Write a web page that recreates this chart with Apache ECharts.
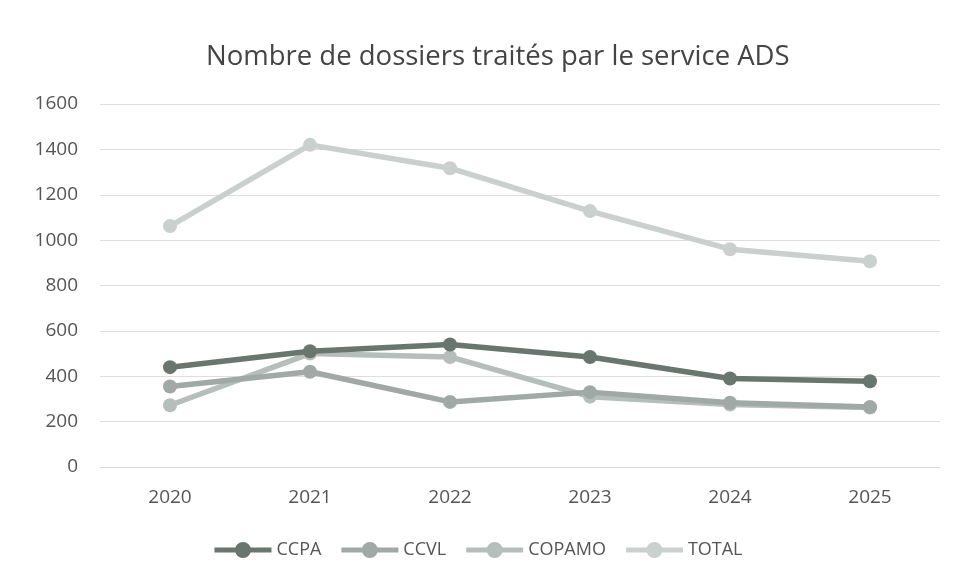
<!DOCTYPE html>
<html><head><meta charset="utf-8">
<script src="https://cdn.jsdelivr.net/npm/echarts@6/dist/echarts.min.js"></script>
<style>html,body{margin:0;padding:0;background:#fff}#c{width:957px;height:587px}</style>
</head><body><div id="c"></div>
<script>
const categories = ['2020','2021','2022','2023','2024','2025'];
const ccpa   = [440, 510, 540, 485, 390, 378];
const ccvl   = [355, 420, 287, 330, 283, 264];
const copamo = [272, 500, 485, 310, 275, 262];
const total  = [1062, 1420, 1317, 1128, 960, 907];
const yTicks = [0, 200, 400, 600, 800, 1000, 1200, 1400, 1600];

const colors = ['#69766f', '#a0a9a5', '#b6bebb', '#cad0ce'];
const names = ['CCPA','CCVL','COPAMO','TOTAL'];
const data = [ccpa, ccvl, copamo, total];
const font = "'Open Sans', 'Noto Sans', sans-serif";
const legendIcon = 'path://M0,5.5 H57 V10.5 H0 Z M20.5,8 A8,8 0 1,1 36.5,8 A8,8 0 1,1 20.5,8 Z';

const chart = echarts.init(document.getElementById('c'));
chart.setOption({
  animation: false,
  backgroundColor: '#fff',
  title: {
    text: 'Nombre de dossiers traités par le service ADS',
    left: 201, top: 38,
    textStyle: { fontFamily: font, fontSize: 27.5, fontWeight: 'normal', color: '#444' }
  },
  legend: {
    bottom: 23, left: 'center', itemGap: 20, itemWidth: 57, itemHeight: 16,
    icon: legendIcon,
    textStyle: { fontFamily: font, fontSize: 18, color: '#555' },
    data: names
  },
  grid: { left: 100, right: 17, top: 104, bottom: 120 },
  xAxis: {
    type: 'category', data: categories, boundaryGap: true,
    axisLine: { lineStyle: { color: '#d9d9d9' } },
    axisTick: { show: false },
    axisLabel: { fontFamily: font, fontSize: 19, color: '#555', margin: 21 }
  },
  yAxis: {
    type: 'value', min: yTicks[0], max: yTicks[yTicks.length-1], interval: 200,
    axisLine: { show: false }, axisTick: { show: false },
    splitLine: { lineStyle: { color: '#dedede' } },
    axisLabel: { fontFamily: font, fontSize: 19, color: '#555', margin: 22, formatter: v => String(v) }
  },
  series: names.map((n, i) => ({
    name: n, type: 'line', data: data[i],
    symbol: 'circle', symbolSize: 14,
    lineStyle: { width: 5.5, color: colors[i] },
    itemStyle: { color: colors[i] },
    z: 10 - i
  }))
});
</script></body></html>
